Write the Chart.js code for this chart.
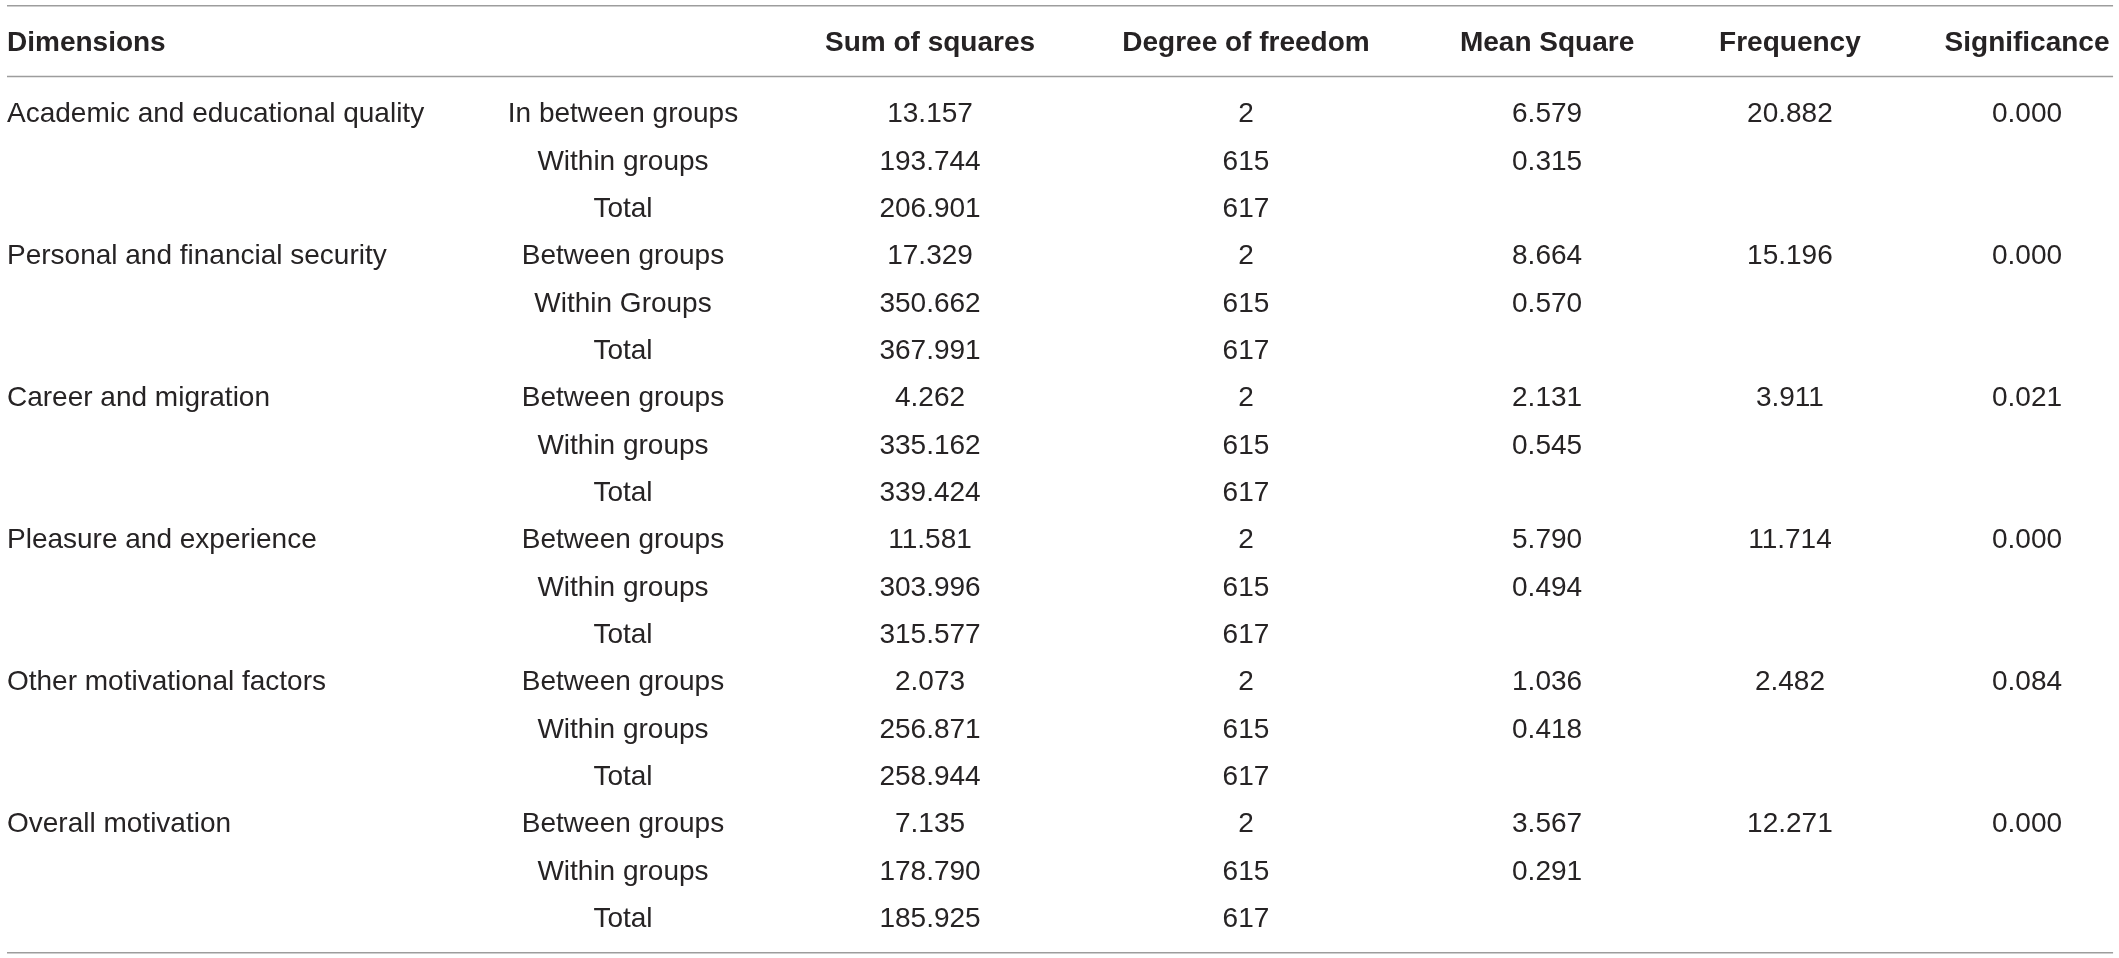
<!DOCTYPE html>
<html>
<head>
<meta charset="utf-8">
<script src="https://cdn.jsdelivr.net/npm/chart.js@4/dist/chart.umd.min.js"></script>
<style>
  html, body { margin: 0; padding: 0; background: #ffffff; }
  #wrap { width: 2119px; height: 958px; }
</style>
</head>
<body>
<div id="wrap"><canvas id="c" width="2119" height="958"></canvas></div>
<script>
// ---------- DATA ----------
const headers = ["Dimensions", "", "Sum of squares", "Degree of freedom", "Mean Square", "Frequency", "Significance"];
const dimensions = [
  "Academic and educational quality",
  "Personal and financial security",
  "Career and migration",
  "Pleasure and experience",
  "Other motivational factors",
  "Overall motivation"
];
const sources = [
  ["In between groups", "Within groups", "Total"],
  ["Between groups", "Within Groups", "Total"],
  ["Between groups", "Within groups", "Total"],
  ["Between groups", "Within groups", "Total"],
  ["Between groups", "Within groups", "Total"],
  ["Between groups", "Within groups", "Total"]
];
const sumOfSquares = [
  [13.157, 193.744, 206.901],
  [17.329, 350.662, 367.991],
  [4.262, 335.162, 339.424],
  [11.581, 303.996, 315.577],
  [2.073, 256.871, 258.944],
  [7.135, 178.790, 185.925]
];
const degreesOfFreedom = [
  [2, 615, 617],
  [2, 615, 617],
  [2, 615, 617],
  [2, 615, 617],
  [2, 615, 617],
  [2, 615, 617]
];
const meanSquares = [
  [6.579, 0.315],
  [8.664, 0.570],
  [2.131, 0.545],
  [5.790, 0.494],
  [1.036, 0.418],
  [3.567, 0.291]
];
const frequency = [20.882, 15.196, 3.911, 11.714, 2.482, 12.271];
const significance = [0.000, 0.000, 0.021, 0.000, 0.084, 0.000];

// ---------- LAYOUT (positions in scale units) ----------
const colX = [0.33, 29.40, 43.89, 58.80, 73.01, 84.47, 95.66];   // x-scale (0..100)
const colAlign = ["left", "center", "center", "center", "center", "center", "center"];
const headerRow = -1.50;          // y-scale position of header row (rows are 0..17)
const ruleRows = [-2.252, -0.756, 17.756];
const ruleX = [0.33, 99.72];
const yMin = -2.373, yMax = 17.867;

const FONT_SIZE = 28;
const BODY_FONT = "300 " + FONT_SIZE + "px 'Liberation Sans', Arial, sans-serif";
const HEAD_FONT = "bold " + FONT_SIZE + "px 'Liberation Sans', Arial, sans-serif";
const TEXT_COLOR = "#262324";
const RULE_COLOR = "#9d9d9d";

// ---------- build cells ----------
const fmt3 = v => v.toFixed(3);
const cells = [];
headers.forEach((h, c) => { if (h) cells.push({x: colX[c], y: headerRow, text: h, bold: true, align: colAlign[c]}); });
dimensions.forEach((d, g) => {
  for (let r = 0; r < 3; r++) {
    const row = g * 3 + r;
    if (r === 0) cells.push({x: colX[0], y: row, text: d, align: colAlign[0]});
    cells.push({x: colX[1], y: row, text: sources[g][r], align: colAlign[1]});
    cells.push({x: colX[2], y: row, text: fmt3(sumOfSquares[g][r]), align: colAlign[2]});
    cells.push({x: colX[3], y: row, text: String(degreesOfFreedom[g][r]), align: colAlign[3]});
    if (r < 2) cells.push({x: colX[4], y: row, text: fmt3(meanSquares[g][r]), align: colAlign[4]});
    if (r === 0) {
      cells.push({x: colX[5], y: row, text: fmt3(frequency[g]), align: colAlign[5]});
      cells.push({x: colX[6], y: row, text: fmt3(significance[g]), align: colAlign[6]});
    }
  }
});

const ruleDatasets = ruleRows.map(y => ({
  type: 'line',
  data: [{x: ruleX[0], y: y}, {x: ruleX[1], y: y}],
  borderColor: RULE_COLOR,
  borderWidth: 1.5,
  pointRadius: 0,
  fill: false
}));

const textPlugin = {
  id: 'cellText',
  afterDatasetsDraw(chart) {
    const ctx = chart.ctx;
    const meta = chart.getDatasetMeta(0);
    ctx.save();
    ctx.fillStyle = TEXT_COLOR;
    ctx.textBaseline = 'alphabetic';
    meta.data.forEach((pt, i) => {
      const cell = cells[i];
      ctx.font = cell.bold ? HEAD_FONT : BODY_FONT;
      ctx.textAlign = cell.align;
      ctx.fillText(cell.text, pt.x, pt.y + FONT_SIZE * 0.358);
    });
    ctx.restore();
  }
};

new Chart(document.getElementById('c'), {
  type: 'scatter',
  data: {
    datasets: [
      { data: cells.map(c => ({x: c.x, y: c.y})), pointRadius: 0, pointHoverRadius: 0, showLine: false },
      ...ruleDatasets
    ]
  },
  options: {
    responsive: false,
    devicePixelRatio: 1,
    animation: false,
    layout: { padding: 0 },
    events: [],
    plugins: { legend: { display: false }, tooltip: { enabled: false } },
    scales: {
      x: { type: 'linear', display: false, min: 0, max: 100 },
      y: { type: 'linear', display: false, reverse: true, min: yMin, max: yMax }
    }
  },
  plugins: [textPlugin]
});
</script>
</body>
</html>
